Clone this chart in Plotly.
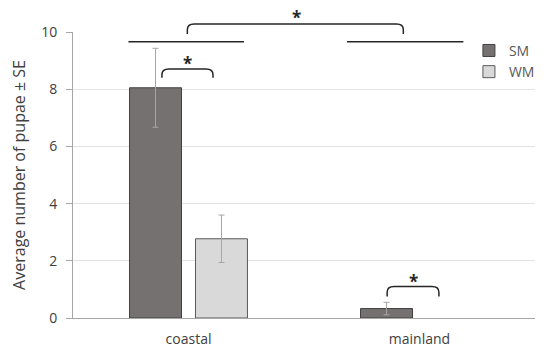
import plotly.graph_objects as go

categories = ["coastal", "mainland"]
cat_pos = [0, 1]
sm_values = [8.05, 0.33]
sm_err = [1.38, 0.22]
wm_values = [2.77, 0]
wm_err = [0.83, 0]
y_ticks = [0, 2, 4, 6, 8, 10]
Y_MAX = 10

FONT = "Open Sans"
TXT = "#404040"

fig = go.Figure()
fig.add_trace(go.Bar(
    name="SM", x=cat_pos, y=sm_values,
    marker=dict(color="#767171", line=dict(color="#404040", width=1)),
    error_y=dict(type="data", array=sm_err, color="#a6a6a6", thickness=1, width=3),
))
fig.add_trace(go.Bar(
    name="WM", x=cat_pos, y=[v if v else None for v in wm_values],
    marker=dict(color="#d9d9d9", line=dict(color="#595959", width=1)),
    error_y=dict(type="data", array=wm_err, color="#a6a6a6", thickness=1, width=3),
))

def bracket(x1, x2, ytop, yend, r=0.03, rv=0.2):
    return (f"M {x1},{yend} L {x1},{ytop-rv} Q {x1},{ytop} {x1+r},{ytop} "
            f"L {x2-r},{ytop} Q {x2},{ytop} {x2},{ytop-rv} L {x2},{yend}")

def p(v):
    return v / Y_MAX  # data value -> paper fraction (axis from 0)

shapes = []
line = dict(color="#262626", width=1.5)
# horizontal group lines
shapes.append(dict(type="line", xref="x", yref="paper", x0=-0.26, x1=0.24,
                   y0=p(9.66), y1=p(9.66), line=line))
shapes.append(dict(type="line", xref="x", yref="paper", x0=0.686, x1=1.19,
                   y0=p(9.66), y1=p(9.66), line=line))
# brackets
shapes.append(dict(type="path", xref="x", yref="paper",
                   path=bracket(-0.005, 0.93, p(10.28), p(9.93), rv=p(0.2)), line=line))
shapes.append(dict(type="path", xref="x", yref="y",
                   path=bracket(-0.115, 0.106, 8.71, 8.4), line=line))
shapes.append(dict(type="path", xref="x", yref="y",
                   path=bracket(0.86, 1.084, 1.1, 0.75), line=line))

annotations = []
for x, y in [(0.466, 10.49), (-0.005, 8.89), (0.976, 1.26)]:
    annotations.append(dict(x=x, y=p(y), text="<b>*</b>", showarrow=False,
                            font=dict(family=FONT, size=17, color="#262626"),
                            xref="x", yref="paper", xanchor="center", yanchor="middle"))

fig.update_layout(
    width=550, height=357,
    margin=dict(l=73, r=15, t=32, b=39, autoexpand=False),
    paper_bgcolor="white", plot_bgcolor="white",
    barmode="group", bargap=0.429, bargroupgap=0.212,
    font=dict(family=FONT, size=14, color=TXT),
    shapes=shapes, annotations=annotations,
    showlegend=True,
    legend=dict(x=0.857, y=0.99, xanchor="left", yanchor="top",
                font=dict(family=FONT, size=14, color="#595959"),
                bgcolor="rgba(0,0,0,0)", tracegroupgap=11, itemwidth=30),
    xaxis=dict(range=[-0.5, 1.5], tickvals=cat_pos, ticktext=categories,
               showgrid=False, zeroline=False, showline=True, automargin=False,
               linecolor="#a6a6a6", linewidth=1, ticks="outside", ticklen=8,
               tickcolor="rgba(0,0,0,0)",
               tickfont=dict(family=FONT, size=14, color=TXT)),
    yaxis=dict(range=[0, Y_MAX], tickvals=y_ticks, showgrid=True, automargin=False,
               gridcolor="#e3e3e3", gridwidth=1, zeroline=False,
               showline=True, linecolor="#a6a6a6", linewidth=1,
               ticks="outside", ticklen=6, tickcolor="#a6a6a6",
               ticklabelstandoff=6,
               tickfont=dict(family=FONT, size=14, color=TXT),
               title=dict(text="Average number of pupae ± SE",
                          font=dict(family=FONT, size=16, color=TXT),
                          standoff=11)),
)

fig.write_html(
    "out.html",
    config={"displayModeBar": False},
    post_script="document.body.style.margin='0';document.body.style.overflow='hidden';",
)
